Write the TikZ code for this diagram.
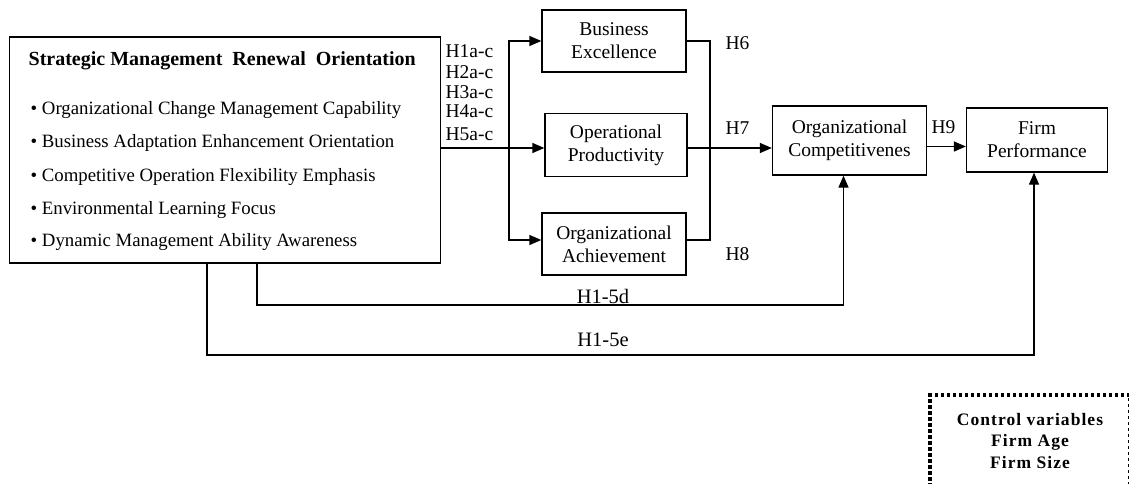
\documentclass[tikz,border=0pt]{standalone}
\usepackage{fontspec}
\setmainfont{Liberation Serif}
\usepackage{tikz}
\usetikzlibrary{arrows.meta,positioning}

\begin{document}
\begin{tikzpicture}[x=1pt, y=-1pt, >={Triangle[length=12pt,width=10pt]}, line width=1.3pt,
  font=\fontsize{19.5}{23}\selectfont,
  box/.style={draw, align=center, inner sep=0pt},
  hyp/.style={inner sep=0pt, anchor=west, font=\fontsize{19.5}{23}\selectfont},
  item/.style={inner sep=0pt, anchor=west, font=\fontsize{18.8}{23}\selectfont},
  ctrlbox/.style={draw, line width=3.5pt, dash pattern=on 3.5pt off 2.5pt, minimum width=200pt, minimum height=100pt}]
  \useasboundingbox (0,0) rectangle (1129,484);
  % orientation box
  \node[box, minimum width=431pt, minimum height=226pt] (smro) at (225,150) {};
  \node[hyp, font=\fontsize{20}{23}\selectfont\bfseries] (title) at (28,61)
    {Strategic Management\hspace{5pt} Renewal\hspace{5pt} Orientation};
  \foreach \y/\t [count=\i] in {110/Organizational Change Management Capability,
      143/Business Adaptation Enhancement Orientation,
      177/Competitive Operation Flexibility Emphasis,
      210/Environmental Learning Focus,
      242/Dynamic Management Ability Awareness}
    \node[item] (item\i) at (30,\y) {\textbullet\ \t};
  % mediators
  \node[box, minimum width=144pt, minimum height=62pt] (be) at (614,41) {Business\\Excellence};
  \node[box, minimum width=142pt, minimum height=63pt] (op) at (616,145) {Operational\\Productivity};
  \node[box, minimum width=144pt, minimum height=62pt] (oa) at (614,244) {Organizational\\Achievement};
  \node[box, minimum width=154pt, minimum height=69pt] (oc) at (849.5,140.5) {Organizational\\Competitivenes};
  \node[box, minimum width=141pt, minimum height=64pt] (fp) at (1037,140) {Firm\\Performance};
  % hypotheses
  \node[hyp] (h1) at (445,51) {H1a-c};
  \node[hyp] (h2) at (445,72) {H2a-c};
  \node[hyp] (h3) at (445,92.5) {H3a-c};
  \node[hyp] (h4) at (445,111) {H4a-c};
  \node[hyp] (h5) at (445,134) {H5a-c};
  \node[hyp] (h6) at (725,43) {H6};
  \node[hyp] (h7) at (725,128) {H7};
  \node[hyp] (h8) at (725,254) {H8};
  \node[hyp] (h9) at (931,127) {H9};
  \node[font=\fontsize{20.5}{23}\selectfont] (h15d) at (603,296) {H1-5d};
  \node[font=\fontsize{20.5}{23}\selectfont] (h15e) at (603,340) {H1-5e};
  % connectors
  \coordinate (split) at (509,148);
  \coordinate (join) at (710,148);
  \coordinate (d) at (257,305);
  \coordinate (e) at (207,355);
  \draw[->] (smro.east |- split) -- (op.west |- split);
  \draw[->] (split) |- (be.west);
  \draw[->] (split) |- ([yshift=4pt]oa.west);
  \draw (be.east) -| (join);
  \draw ([yshift=4pt]oa.east) -| (join);
  \draw[->] (op.east |- join) -- (oc.west |- join);
  \draw[->] ([yshift=-6pt]oc.east) -- ([yshift=-6pt]oc.east -| fp.west);
  \draw[->] (smro.south -| d) |- ([xshift=-6pt]oc.south |- d) -- ([xshift=-6pt]oc.south);
  \draw[->] (smro.south -| e) |- ([xshift=-3pt]fp.south |- e) -- ([xshift=-3pt]fp.south);
  % controls
  \node[ctrlbox] (ctrl) at (1030,445) {};
  \node[align=center, font=\fontsize{17.5}{21.5}\selectfont\bfseries\addfontfeature{LetterSpace=6}] (ctrltxt) at (1030,441) {Control variables\\Firm Age\\Firm Size};
\end{tikzpicture}
\end{document}
